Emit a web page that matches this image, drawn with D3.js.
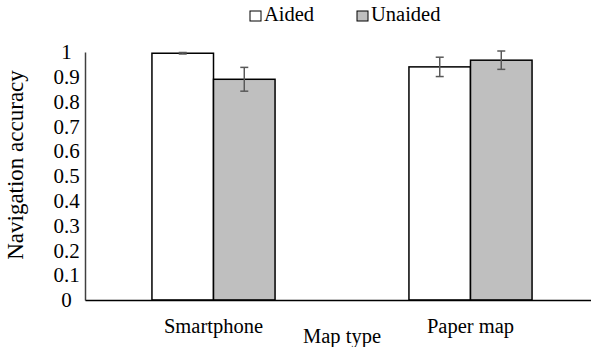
<!DOCTYPE html>
<html>
<head>
<meta charset="utf-8">
<script src="https://cdn.jsdelivr.net/npm/d3@7"></script>
<style>
  html, body { margin: 0; padding: 0; background: #fff; }
  svg { display: block; }
  svg text { font-family: "Liberation Serif", "Times New Roman", serif !important; fill: #000; }
</style>
</head>
<body>
<svg id="chart" width="591" height="347"></svg>
<script>
const categories = ["Smartphone", "Paper map"];
const seriesNames = ["Aided", "Unaided"];
const aidedValues = [0.995, 0.94];
const unaidedValues = [0.89, 0.967];
const aidedErrors = [0.003, 0.039];
const unaidedErrors = [0.048, 0.037];
const yTicks = [0, 0.1, 0.2, 0.3, 0.4, 0.5, 0.6, 0.7, 0.8, 0.9, 1];
const yTickLabels = ["0", "0.1", "0.2", "0.3", "0.4", "0.5", "0.6", "0.7", "0.8", "0.9", "1"];
const xTitle = "Map type";
const yTitle = "Navigation accuracy";

const fills = { "Aided": "#ffffff", "Unaided": "#bfbfbf" };

const svg = d3.select("#chart");
const plot = { left: 85, right: 599, top: 52, bottom: 300 };

const x0 = d3.scaleBand().domain(categories)
  .range([plot.left, plot.right]).paddingInner(0.521).paddingOuter(0.2605);
const x1 = d3.scaleBand().domain(seriesNames).range([0, x0.bandwidth()]);
const y = d3.scaleLinear().domain([0, 1]).range([plot.bottom, plot.top]);

const data = categories.map((c, i) => ({
  cat: c,
  vals: [
    { s: "Aided", v: aidedValues[i], e: aidedErrors[i] },
    { s: "Unaided", v: unaidedValues[i], e: unaidedErrors[i] }
  ]
}));

// Bars
const g = svg.append("g");
const groups = g.selectAll("g.cat").data(data).join("g")
  .attr("transform", d => `translate(${x0(d.cat)},0)`);
groups.selectAll("rect").data(d => d.vals).join("rect")
  .attr("x", d => x1(d.s))
  .attr("y", d => y(d.v))
  .attr("width", x1.bandwidth())
  .attr("height", d => y(0) - y(d.v))
  .attr("fill", d => fills[d.s])
  .attr("stroke", "#000")
  .attr("stroke-width", 1.5);

// Error bars
const capW = 8;
groups.selectAll("g.err").data(d => d.vals).join("g").attr("class", "err")
  .each(function(d) {
    const cx = x1(d.s) + x1.bandwidth() / 2;
    const gg = d3.select(this).attr("stroke", "#595959").attr("stroke-width", 1.5);
    gg.append("line").attr("x1", cx).attr("x2", cx)
      .attr("y1", y(d.v + d.e)).attr("y2", y(d.v - d.e));
    gg.append("line").attr("x1", cx - capW / 2).attr("x2", cx + capW / 2)
      .attr("y1", y(d.v + d.e)).attr("y2", y(d.v + d.e));
    gg.append("line").attr("x1", cx - capW / 2).attr("x2", cx + capW / 2)
      .attr("y1", y(d.v - d.e)).attr("y2", y(d.v - d.e));
  });

// Y axis
const yAxis = d3.axisLeft(y).tickValues(yTicks)
  .tickFormat((d, i) => yTickLabels[i]).tickSize(0);
const yg = svg.append("g").attr("transform", `translate(${plot.left},0)`).call(yAxis)
  .attr("font-family", null).attr("font-size", null);
yg.select(".domain").attr("stroke", "#404040").attr("stroke-width", 1.5);
yg.selectAll("text").attr("text-anchor", "middle").attr("x", -18.5)
  .style("font-size", "21px");

// X axis
const xAxis = d3.axisBottom(x0).tickSize(0).tickPadding(18);
const xg = svg.append("g").attr("transform", `translate(0,${plot.bottom})`).call(xAxis)
  .attr("font-family", null).attr("font-size", null);
xg.select(".domain").attr("stroke", "#000").attr("stroke-width", 1.5);
xg.selectAll("text").style("font-size", "20.5px");

// Axis titles
svg.append("text").attr("x", (plot.left + plot.right) / 2).attr("y", 343)
  .attr("text-anchor", "middle").style("font-size", "20.5px").text(xTitle);
svg.append("text")
  .attr("transform", `translate(23,165) rotate(-90)`)
  .attr("text-anchor", "middle").style("font-size", "23px").text(yTitle);

// Legend
const legendItems = [{ s: "Aided", x: 250 }, { s: "Unaided", x: 357 }];
const lg = svg.append("g");
legendItems.forEach(it => {
  lg.append("rect").attr("x", it.x).attr("y", 11).attr("width", 11).attr("height", 10)
    .attr("fill", fills[it.s]).attr("stroke", "#000").attr("stroke-width", 1);
  lg.append("text").attr("x", it.x + 14).attr("y", 21).style("font-size", "20.5px").text(it.s);
});
</script>
</body>
</html>
